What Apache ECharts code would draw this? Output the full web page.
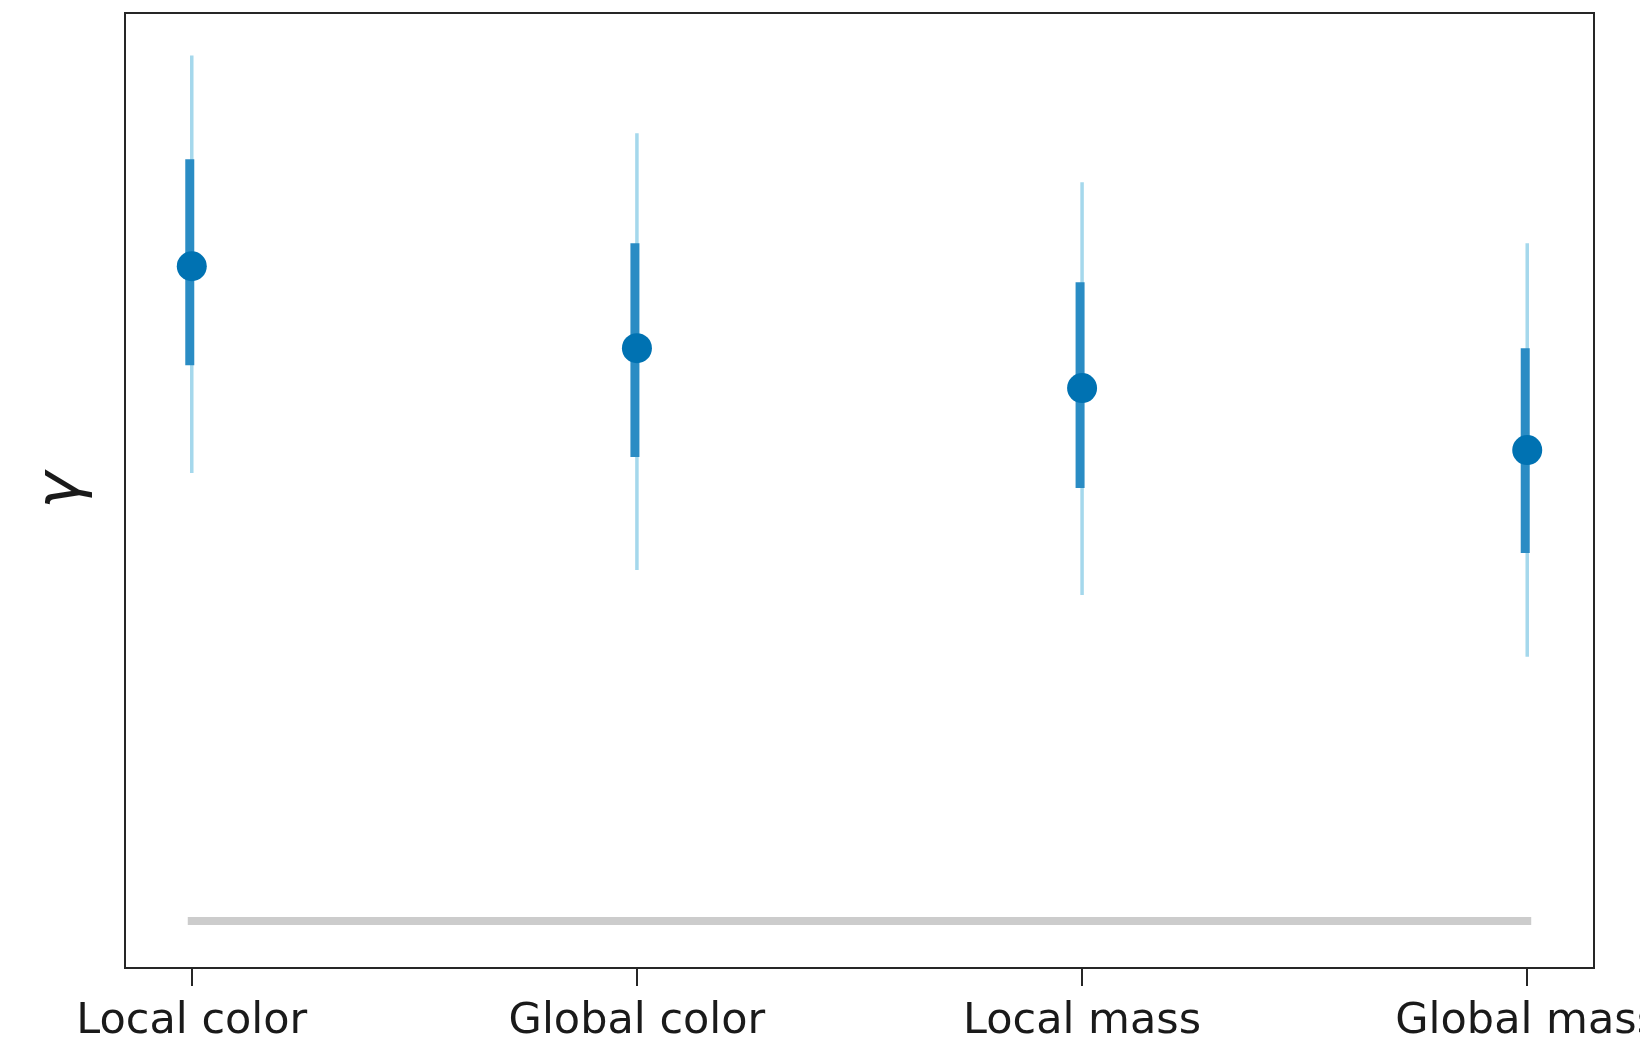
<!DOCTYPE html>
<html>
<head>
<meta charset="utf-8">
<script src="https://cdn.jsdelivr.net/npm/echarts@6/dist/echarts.min.js"></script>
<style>html,body{margin:0;padding:0;background:#fff;}#c{width:1640px;height:1046px;}</style>
</head>
<body>
<div id="c"></div>
<script>
const categories = ['Local color', 'Global color', 'Local mass', 'Global mass'];
const median = [0.6555, 0.5735, 0.5335, 0.4715];
const innerLow = [0.5565, 0.4645, 0.4335, 0.3685];
const innerHigh = [0.7625, 0.6785, 0.6395, 0.5735];
const outerLow = [0.4485, 0.3515, 0.3265, 0.2645];
const outerHigh = [0.8665, 0.7885, 0.7395, 0.6785];
const refValue = 0;

const chart = echarts.init(document.getElementById('c'), null, {renderer: 'canvas'});
const idx = categories.map((_, i) => i);

const intervalData = idx.map(i => [i, outerLow[i], outerHigh[i], innerLow[i], innerHigh[i]]);

chart.setOption({
  animation: false,
  backgroundColor: '#ffffff',
  grid: {left: 125, right: 46, top: 13, bottom: 78, show: true, borderColor: '#262626', borderWidth: 2,
         backgroundColor: 'transparent', containLabel: false, outerBoundsMode: 'none'},
  xAxis: {
    type: 'value', min: -0.15, max: 3.15,
    axisLine: {show: false, onZero: false},
    splitLine: {show: false},
    axisTick: {show: true, inside: false, customValues: idx, length: 18, lineStyle: {color: '#262626', width: 2}},
    axisLabel: {
      customValues: idx, margin: 32, hideOverlap: false,
      fontFamily: 'DejaVu Sans', fontSize: 43, color: '#1a1a1a',
      formatter: v => categories[Math.round(v)]
    }
  },
  yAxis: {
    type: 'value', min: -0.047, max: 0.909,
    axisLine: {show: false, onZero: false}, axisTick: {show: false}, axisLabel: {show: false}, splitLine: {show: false},
    name: 'γ', nameLocation: 'middle', nameRotate: 90, nameGap: 31,
    nameTextStyle: {fontFamily: 'DejaVu Sans', fontStyle: 'italic', fontSize: 62, color: '#1a1a1a'}
  },
  series: [
    {
      type: 'line', data: [[0, refValue], [3, refValue]], symbol: 'none', silent: true, z: 1,
      lineStyle: {color: '#cccccc', width: 8, cap: 'square'}
    },
    {
      type: 'custom', z: 2, silent: true,
      data: intervalData,
      encode: {x: 0, y: [1, 2, 3, 4]},
      renderItem: function (params, api) {
        const x = api.value(0);
        const oLo = api.coord([x, api.value(1)]);
        const oHi = api.coord([x, api.value(2)]);
        const iLo = api.coord([x, api.value(3)]);
        const iHi = api.coord([x, api.value(4)]);
        return {
          type: 'group',
          children: [
            {type: 'line', shape: {x1: oLo[0], y1: oLo[1], x2: oHi[0], y2: oHi[1]}, style: {stroke: '#a5d8ec', lineWidth: 3.5}},
            {type: 'line', shape: {x1: iLo[0] - 2, y1: iLo[1], x2: iHi[0] - 2, y2: iHi[1]}, style: {stroke: '#2a8cc4', lineWidth: 9}}
          ]
        };
      }
    },
    {
      type: 'scatter', z: 3, silent: true,
      data: idx.map(i => [i, median[i]]),
      symbol: 'circle', symbolSize: 30,
      itemStyle: {color: '#0072b2', opacity: 1}
    }
  ]
});
</script>
</body>
</html>
